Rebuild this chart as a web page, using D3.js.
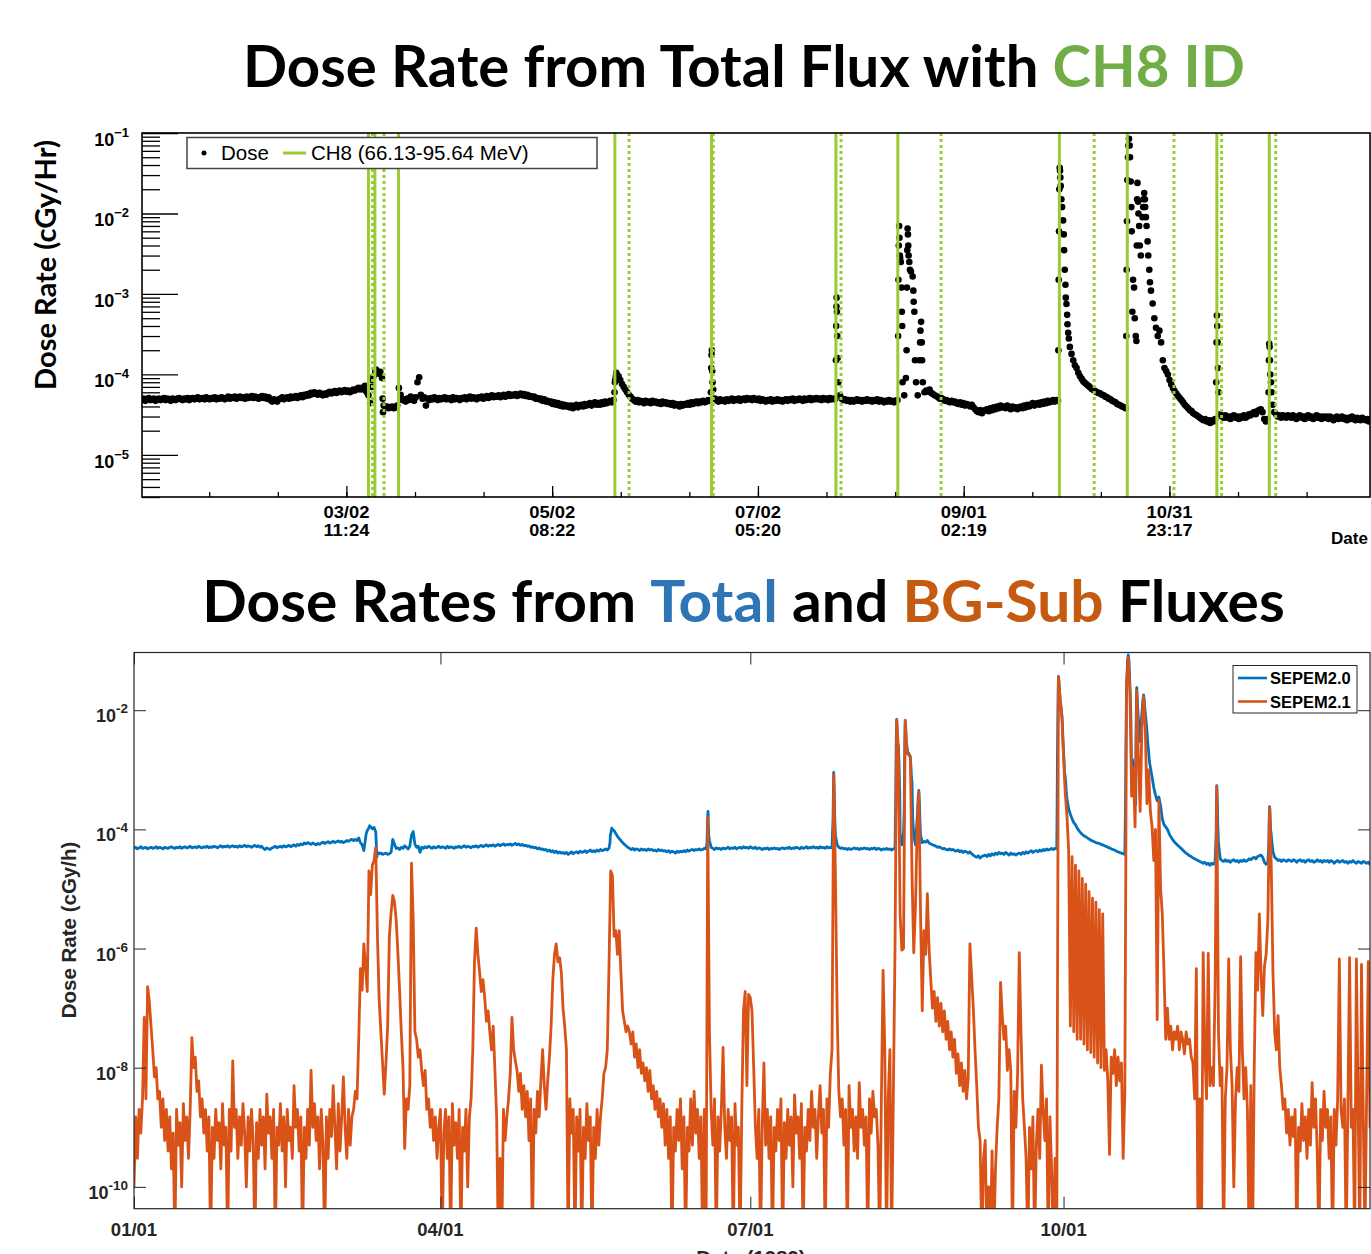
<!DOCTYPE html>
<html><head><meta charset="utf-8">
<script src="https://cdn.jsdelivr.net/npm/d3@7"></script>
<style>body{margin:0;background:#fff} svg{display:block} text{white-space:pre}</style>
</head><body>
<svg id="chart" width="1371" height="1254"></svg>
<script>
// ---------------- DATA ----------------
// Total-flux dose rate (SEPEM2.0), one value every 0.5 day from 1989-01-01, in units of 1e-5 cGy/hr
const totalDoseE5 = [
/*  0 */ 4.8,5.0,4.7,4.9,5.1,4.8,4.9,5.0,4.7,4.9,
/*  5 */ 5.0,4.8,4.9,5.1,4.8,5.0,4.9,4.7,5.0,4.9,
/* 10 */ 4.8,5.0,5.1,4.9,4.8,5.0,4.9,5.1,4.8,5.0,
/* 15 */ 5.1,4.9,5.0,5.2,4.9,5.0,5.1,4.9,5.2,5.0,
/* 20 */ 4.9,5.1,5.0,5.2,4.9,5.1,5.0,5.2,5.1,4.9,
/* 25 */ 5.1,5.3,5.0,5.2,5.1,5.3,5.0,5.2,5.3,5.1,
/* 30 */ 5.2,5.0,5.3,5.1,5.2,5.4,5.1,5.3,5.2,5.0,
/* 35 */ 5.2,5.4,5.1,5.3,5.0,5.2,4.8,4.6,4.9,4.7,
/* 40 */ 4.6,4.9,5.0,5.2,4.9,5.1,5.2,5.0,5.3,5.1,
/* 45 */ 5.2,5.4,5.1,5.3,5.5,5.2,5.6,5.4,5.7,5.5,
/* 50 */ 5.9,5.7,6.0,5.8,5.6,5.9,5.7,5.5,5.8,5.6,
/* 55 */ 5.9,6.1,5.8,6.0,6.2,5.9,6.1,6.3,6.0,6.2,
/* 60 */ 6.4,6.1,6.3,6.0,6.2,6.5,6.3,6.6,6.8,6.5,
/* 65 */ 6.8,6.5,7.2,6.0,5.5,4.4,7.0,9.5,10.7,11.0,
/* 70 */ 10.2,10.8,9.0,4.1,3.9,4.0,3.8,3.9,4.0,3.8,
/* 75 */ 3.9,4.1,6.8,5.6,4.8,4.9,4.6,5.0,4.8,5.3,
/* 80 */ 5.0,4.7,5.2,8.0,9.2,5.6,5.0,5.2,4.1,5.0,
/* 85 */ 4.8,5.1,4.9,5.2,5.0,4.8,5.1,4.9,5.0,5.2,
/* 90 */ 4.9,5.1,5.0,4.8,5.2,4.9,5.1,5.0,4.8,5.1,
/* 95 */ 5.0,5.2,4.9,5.1,5.3,5.0,5.2,5.1,4.9,5.2,
/*100 */ 5.1,5.3,5.0,5.2,5.4,5.1,5.3,5.5,5.2,5.4,
/*105 */ 5.3,5.5,5.2,5.4,5.6,5.3,5.5,5.7,5.4,5.6,
/*110 */ 5.5,5.7,5.4,5.6,5.8,5.5,5.7,5.4,5.6,5.3,
/*115 */ 5.4,5.2,5.3,5.0,5.1,4.9,5.0,4.7,4.9,4.6,
/*120 */ 4.7,4.5,4.6,4.3,4.5,4.2,4.4,4.1,4.3,4.0,
/*125 */ 4.2,4.0,4.1,3.9,4.1,3.8,4.0,4.2,3.9,4.1,
/*130 */ 4.2,4.0,4.3,4.1,4.2,4.4,4.1,4.3,4.5,4.2,
/*135 */ 4.4,4.2,4.5,4.3,4.6,4.4,4.5,4.7,4.5,4.8,
/*140 */ 8.5,10.0,9.5,8.5,7.6,7.0,6.5,6.0,5.6,5.3,
/*145 */ 5.0,4.8,4.6,4.8,4.5,4.7,4.6,4.4,4.7,4.5,
/*150 */ 4.6,4.4,4.7,4.5,4.6,4.4,4.5,4.3,4.6,4.4,
/*155 */ 4.5,4.3,4.4,4.2,4.4,4.1,4.3,4.2,4.0,4.3,
/*160 */ 4.1,4.3,4.2,4.4,4.2,4.5,4.3,4.5,4.6,4.4,
/*165 */ 4.6,4.5,4.7,4.5,4.6,4.8,4.7,17.5,6.5,5.0,
/*170 */ 4.8,4.6,4.9,4.7,4.8,4.6,4.9,4.7,4.8,5.0,
/*175 */ 4.7,4.9,4.8,5.0,4.7,4.9,5.0,4.8,5.1,4.9,
/*180 */ 5.0,4.8,5.1,4.9,4.8,5.0,4.7,4.9,4.8,4.6,
/*185 */ 4.8,4.7,4.9,4.6,4.8,4.7,4.9,4.7,4.8,4.6,
/*190 */ 4.8,4.9,4.7,4.9,4.8,5.0,4.7,4.9,4.8,5.0,
/*195 */ 4.9,4.7,5.0,4.8,4.9,5.1,4.8,5.0,4.9,5.1,
/*200 */ 4.9,5.0,4.8,5.1,4.9,5.0,4.8,5.1,4.9,5.0,
/*205 */ 4.9,90,8.0,5.5,5.0,4.8,4.9,4.7,4.8,4.6,
/*210 */ 4.8,4.6,4.7,4.9,4.7,4.8,4.6,4.8,4.7,4.9,
/*215 */ 4.7,4.8,4.6,4.8,4.7,4.9,4.6,4.8,4.7,4.5,
/*220 */ 4.7,4.6,4.8,4.6,4.7,4.5,4.7,4.8,700,250,
/*225 */ 8,5.5,9,650,250,190,165,60,8,5.5,
/*230 */ 15,45,8,6.0,6.3,6.1,6.5,5.9,5.7,5.5,
/*235 */ 5.4,5.2,5.0,5.1,4.9,4.7,4.8,4.6,4.5,4.7,
/*240 */ 4.5,4.6,4.4,4.3,4.5,4.2,4.4,4.1,4.3,4.2,
/*245 */ 4.0,4.2,3.9,3.7,3.5,3.4,3.6,3.3,3.5,3.6,
/*250 */ 3.7,3.5,3.8,3.6,3.9,3.7,4.0,3.8,4.1,3.9,
/*255 */ 4.0,3.8,4.1,3.9,3.7,4.0,3.8,3.9,3.7,3.9,
/*260 */ 4.0,3.8,4.1,3.9,4.2,4.0,4.2,4.4,4.1,4.3,
/*265 */ 4.4,4.2,4.5,4.3,4.6,4.4,4.7,4.5,4.6,4.8,
/*270 */ 4.6,4.8,4.7,3700,1500,820,200,75,33,22,
/*275 */ 18,15,13,12,10.5,9.5,8.8,8.2,7.8,7.5,
/*280 */ 7.2,6.9,6.6,6.4,6.2,6.0,5.9,5.8,5.6,5.5,
/*285 */ 5.3,5.2,5.0,4.9,4.7,4.6,4.5,4.3,4.2,4.1,
/*290 */ 4.0,3.9,3.8,2600,8500,2500,60,120,30,2400,
/*295 */ 700,300,900,1800,900,450,200,110,76,50,
/*300 */ 38,30,35,25,15,12,11,10,8.5,7.5,
/*305 */ 6.8,6.2,5.8,5.4,5.1,4.8,4.5,4.2,4.0,3.8,
/*310 */ 3.6,3.5,3.3,3.2,3.1,3.0,2.9,2.8,2.7,2.8,
/*315 */ 2.6,2.7,2.5,2.7,2.6,2.8,54,6.0,3.2,3.0,
/*320 */ 2.9,3.1,2.9,3.0,2.8,3.0,3.1,2.9,3.0,2.8,
/*325 */ 3.0,2.9,3.1,2.9,3.0,3.2,3.1,3.3,3.4,3.2,
/*330 */ 3.5,3.6,3.7,3.4,2.8,2.6,2.8,24,8,4.2,
/*335 */ 3.4,3.2,3.0,3.1,2.9,3.1,3.0,2.9,3.1,3.0,
/*340 */ 2.9,3.1,3.0,2.8,3.0,3.1,2.9,3.0,2.8,3.0,
/*345 */ 3.1,2.9,3.0,2.8,2.9,3.1,2.9,3.0,2.8,3.0,
/*350 */ 2.9,3.0,2.8,3.0,2.9,2.7,2.9,3.0,2.8,2.9,
/*355 */ 3.0,2.8,2.9,2.7,2.9,2.8,3.0,2.8,2.7,2.9,
/*360 */ 2.8,2.7,2.9,2.8,2.7,2.8,2.6,2.8
];
// Extra readings during the sharp events: [day of year, cGy/hr]
const totalDoseDetail = [
 [68.2,8.5e-5],[69.2,1.15e-4],[70.2,1.05e-4],[71.2,5e-5],[71.3,3.4e-5],
 [139.8,6e-5],[139.9,8e-5],[140.2,9.5e-5],[140.3,1.05e-4],
 [168.3,6e-5],[168.4,1.2e-4],[168.6,2e-4],[168.7,1.1e-4],[168.8,8e-5],
 [205.3,1.5e-4],[205.4,4e-4],[205.45,7e-4],[205.6,6e-4],[205.7,3e-4],[205.8,1.6e-4],
 [223.7,3e-4],[223.8,1.5e-3],[223.9,4e-3],[224.1,5e-3],[224.2,3e-3],[224.3,2.8e-3],[224.7,1.2e-3],[224.8,6e-4],[224.9,4e-4],
 [226.2,2e-4],[226.3,1.2e-3],[226.4,3.5e-3],[226.6,5.5e-3],[226.7,4e-3],[226.8,3e-3],[227.2,2e-3],[228.2,1.1e-3],[228.3,8e-4],[228.7,1.5e-4],
 [230.2,2.5e-4],[230.3,3.5e-4],[230.7,2.5e-4],[230.8,1.5e-4],
 [271.1,2e-4],[271.2,1.5e-3],[271.3,6e-3],[271.4,2e-2],[271.6,3.4e-2],[271.7,2.8e-2],[271.8,2.2e-2],[272.2,1.2e-2],[272.7,5.5e-3],[272.8,3.5e-3],[273.2,1.3e-3],[273.3,9e-4],[273.7,5.5e-4],[273.8,4.2e-4],[274.2,2.8e-4],
 [291.2,3e-4],[291.3,2e-3],[291.4,8e-3],[291.7,5e-2],[291.8,7e-2],[292.2,7e-2],[292.3,5e-2],[292.7,1.2e-2],[292.8,6e-3],[293.2,1.5e-3],[293.7,5e-4],[294.2,2.6e-4],[294.3,4e-3],[294.4,1.5e-2],[294.7,1.4e-2],[294.8,1e-2],[295.2,4e-3],[296.2,1.2e-2],[296.3,1.5e-2],[296.7,1.5e-2],[296.8,1.2e-2],[297.2,7e-3],[297.7,3e-3],[298.2,1.4e-3],
 [317.8,8e-5],[317.9,2.5e-4],[318.1,4e-4],[318.2,2.5e-4],[318.3,1.2e-4],
 [333.3,6e-5],[333.4,1.5e-4],[333.6,2.2e-4],[333.7,1.5e-4],[333.8,1e-4],[334.2,6e-5]
];
// Background-subtracted dose rate (SEPEM2.1), one value every 0.5 day, cGy/h
const bgSubDose = [
/*  0 */ 1e-10,1.5e-9,3e-10,2e-9,8e-10,3e-9,7e-8,3e-9,2.3e-7,1.3e-7,
/*  5 */ 5e-8,2e-8,7e-9,1e-8,3e-9,4e-9,1e-9,3e-9,6e-10,2e-9,
/* 10 */ 4e-10,1.5e-9,2e-10,8e-10,1e-11,2e-9,5e-10,1.2e-9,1e-10,2.5e-9,
/* 15 */ 6e-10,1.5e-9,3e-10,2e-9,3.2e-8,1e-8,1.5e-8,4e-9,6e-9,1.5e-9,
/* 20 */ 3e-9,8e-10,2e-9,4e-10,1.5e-9,1e-11,1e-9,3e-10,2e-9,6e-10,
/* 25 */ 1.2e-9,2e-10,2.5e-9,5e-10,1e-9,1e-11,2e-9,4e-10,1.3e-8,1e-9,
/* 30 */ 2e-9,3e-10,1.5e-9,5e-10,2.5e-9,8e-10,1e-10,1.5e-9,4e-10,2e-9,
/* 35 */ 6e-10,1e-11,1.2e-9,3e-10,2e-9,5e-10,1.5e-9,2e-10,3.6e-9,8e-10,
/* 40 */ 1.5e-9,3e-10,2e-9,1e-11,1e-9,5e-10,2.5e-9,4e-10,1.5e-9,1e-10,
/* 45 */ 2e-9,6e-10,1e-9,3e-10,5e-9,1e-9,2e-9,4e-10,1.5e-9,1e-11,
/* 50 */ 1e-9,3e-10,2e-9,5e-10,9e-9,1e-9,2.5e-9,6e-10,1.5e-9,2e-10,
/* 55 */ 2e-9,5e-10,1e-11,1.5e-9,3e-10,2e-9,7e-10,5e-9,1e-9,2e-10,
/* 60 */ 2.5e-9,4e-10,1.5e-9,7e-9,1e-9,3e-10,2e-9,5e-10,1.5e-9,2e-9,
/* 65 */ 4e-9,3e-9,3e-8,4.6e-7,2e-7,1.2e-6,5e-7,1.9e-7,2e-5,8e-6,
/* 70 */ 2.5e-5,3e-5,5e-5,1.6e-6,1.4e-7,4e-8,1.2e-8,3.6e-9,1.2e-8,5e-8,
/* 75 */ 1.6e-6,4e-6,7.8e-6,6e-6,3e-6,8.5e-7,2e-7,4e-8,1e-8,4.4e-10,
/* 80 */ 3e-9,2e-9,5e-9,2.7e-5,3e-6,4e-8,3e-8,1.5e-8,2e-8,9e-9,
/* 85 */ 5e-9,9e-9,2e-9,3e-9,1e-9,2e-9,6e-10,1.5e-9,3e-10,1e-9,
/* 90 */ 2e-9,1e-11,8e-10,2e-9,3e-10,1.5e-9,1e-11,2.5e-9,5e-10,1.2e-9,
/* 95 */ 3e-10,2e-9,1e-11,1e-9,4e-10,2e-9,1e-10,1.5e-9,3e-9,2e-8,
/*100 */ 6e-7,2.2e-6,8e-7,4e-7,1.9e-7,3e-7,1.5e-7,6e-8,9e-8,4e-8,
/*105 */ 2e-8,5e-8,9e-9,1.5e-9,1e-11,3e-10,1e-11,2e-9,6e-10,1.5e-9,
/*110 */ 3e-9,8e-9,7e-8,2e-8,1.3e-8,9e-9,4e-9,8e-9,2e-9,5e-9,
/*115 */ 1.5e-9,4e-9,6e-10,3e-9,1e-11,2e-9,8e-10,4e-9,1.5e-9,6e-9,
/*120 */ 2e-8,5e-9,2e-9,6e-9,1.5e-8,5e-8,3e-7,8e-7,1.2e-6,6e-7,
/*125 */ 7e-7,4e-7,1e-7,5e-8,2e-8,1e-11,3e-9,8e-10,2e-9,1e-11,
/*130 */ 1.5e-9,4e-10,2e-9,1e-11,1e-9,3e-10,2.5e-9,6e-10,1.5e-9,1e-11,
/*135 */ 1e-9,3e-10,2e-9,5e-10,1.5e-9,3e-9,8e-9,1e-8,2e-8,5e-7,
/*140 */ 2e-5,1.7e-5,1.6e-6,2e-6,8e-7,2e-6,4e-7,9e-8,6e-8,4e-8,
/*145 */ 5e-8,4e-8,2.5e-8,4e-8,1.5e-8,2.5e-8,1e-8,2e-8,8e-9,1.2e-8,
/*150 */ 6e-9,1e-8,4e-9,9e-9,3e-9,5e-9,2e-9,4e-9,1.5e-9,3e-9,
/*155 */ 1e-9,2.5e-9,5e-10,2e-9,3e-10,1.5e-9,1e-11,1e-9,4e-10,2e-9,
/*160 */ 6e-10,3e-9,2e-10,1.5e-9,1e-11,1e-9,4e-10,3e-9,5e-10,4e-9,
/*165 */ 8e-10,2e-9,3e-10,1.5e-9,1e-11,2e-9,1e-11,1.6e-4,4e-8,2e-9,
/*170 */ 5e-10,3e-9,1e-11,1.5e-9,4e-10,2e-9,2.2e-8,1e-9,3e-10,2e-9,
/*175 */ 6e-10,1.5e-9,1e-11,2.5e-9,5e-10,1e-9,1e-11,2e-9,9e-8,1.9e-7,
/*180 */ 5e-9,1.7e-7,1.5e-7,9e-8,1e-8,1e-9,3e-10,2e-9,1e-11,1e-9,
/*185 */ 1.2e-8,5e-10,2e-9,3e-10,1.5e-9,1e-11,1e-9,4e-10,2e-9,6e-10,
/*190 */ 3e-9,1e-11,1.2e-9,3e-10,2e-9,5e-10,1.5e-9,1e-10,3.5e-9,8e-10,
/*195 */ 1.5e-9,3e-10,2.5e-9,1e-11,1e-9,4e-10,2e-9,6e-10,4e-9,1e-9,
/*200 */ 2e-9,3e-10,1.5e-9,5e-9,8e-10,2e-9,1e-11,3e-9,1e-9,8e-9,
/*205 */ 2e-8,8.3e-4,1.7e-5,9e-8,4e-9,1.5e-9,3e-9,5e-10,2e-9,1e-11,
/*210 */ 5e-9,1e-9,2e-9,4e-10,1.5e-9,3e-10,5.6e-9,1e-9,2e-9,5e-10,
/*215 */ 1.5e-9,1e-11,3e-9,8e-10,4e-9,1.5e-9,2e-9,5e-10,1e-11,3e-9,
/*220 */ 4.3e-7,2e-8,1e-11,3e-9,2e-8,1e-11,3e-9,1e-6,6.8e-3,2e-3,
/*225 */ 3.8e-6,9.4e-7,1e-6,6.8e-3,1.9e-3,1.8e-3,1.65e-3,1.7e-5,8.5e-7,5e-6,
/*230 */ 1e-4,4.2e-4,3.8e-6,9e-8,2e-6,8e-7,8.3e-6,1e-6,3e-7,1e-7,
/*235 */ 1.9e-7,6e-8,1.5e-7,5e-8,1.2e-7,4e-8,9e-8,3e-8,6e-8,2e-8,
/*240 */ 4e-8,1.5e-8,3e-8,8e-9,1.7e-8,5e-9,1.2e-8,4e-9,9e-9,3e-9,
/*245 */ 6.7e-9,1.2e-6,3.4e-7,1e-7,2e-8,5e-9,1e-9,6e-10,1e-11,3e-10,
/*250 */ 6e-10,1e-11,1e-10,1e-11,4e-10,1e-11,2e-10,1e-9,3e-9,2.7e-7,
/*255 */ 7.5e-8,3e-8,5e-8,9e-9,2e-8,9e-9,1e-11,4e-9,1e-9,8e-9,
/*260 */ 8.5e-7,4e-8,3e-9,1e-9,3e-10,1e-11,1e-9,2e-10,1.5e-9,1e-11,
/*265 */ 5e-10,2e-9,3e-10,1.1e-8,2e-9,6e-10,3e-9,1e-11,1.5e-9,2e-10,
/*270 */ 1e-11,3e-10,1e-11,3.6e-2,1.5e-2,8e-3,1.6e-3,4e-4,1.7e-4,4.3e-5,
/*275 */ 5e-8,3.5e-5,4e-8,2.5e-5,3e-8,2e-5,3e-8,1.5e-5,2.5e-8,1.2e-5,
/*280 */ 2e-8,9e-6,1.8e-8,7e-6,1.5e-8,6e-6,1.2e-8,4.5e-6,1e-8,3.8e-6,
/*285 */ 9e-9,2e-8,6e-9,3.5e-10,1.5e-8,8e-9,2e-8,5e-9,1.5e-8,6e-9,
/*290 */ 1.2e-8,3e-10,4e-9,2.5e-2,7.7e-2,2e-2,3.6e-4,1.1e-3,1.1e-4,2.1e-2,
/*295 */ 1.4e-3,2e-4,5e-3,1.7e-2,5e-3,2.7e-4,1e-3,2e-4,1.1e-4,3e-5,
/*300 */ 1e-4,6.4e-8,3.1e-4,1e-5,3.8e-6,4e-7,3e-8,1e-7,3e-8,5e-8,
/*305 */ 2e-8,4e-8,3e-8,5e-8,2e-8,4e-8,3e-8,1.7e-8,4e-8,2.5e-8,
/*310 */ 3e-8,1.5e-8,1.2e-8,3e-9,4.6e-7,1e-11,3e-9,1e-11,8.5e-7,2e-8,
/*315 */ 3e-9,8.3e-7,5e-9,1e-8,5e-9,2e-7,5.2e-4,4e-8,5e-9,1e-8,
/*320 */ 1e-11,3e-9,1e-8,6.7e-7,2e-8,5e-9,1e-10,3e-9,1e-8,4e-9,
/*325 */ 7.3e-7,2e-8,3e-9,1e-8,2e-9,1e-11,5e-9,1e-11,1e-8,8.5e-7,
/*330 */ 2e-7,3.8e-6,4e-7,7.5e-8,5e-7,8e-7,3e-6,2.3e-4,2.4e-5,4e-7,
/*335 */ 4e-8,2e-8,7.5e-8,1e-8,5e-9,2e-9,3e-9,8e-10,2e-9,5e-10,
/*340 */ 1.5e-9,7e-10,2e-9,1e-11,1e-9,4e-10,2.5e-9,6e-10,1.5e-9,3e-10,
/*345 */ 2e-9,5e-10,5.6e-9,1e-9,3e-9,4e-10,1e-11,2e-9,6e-10,4e-9,
/*350 */ 1e-9,2e-9,3e-10,1.5e-9,1e-11,2e-9,5e-10,3e-9,6.7e-7,2e-9,
/*355 */ 1e-9,3e-9,1e-11,2e-9,7e-7,1e-9,2e-9,1e-11,6.7e-7,3e-9,
/*360 */ 1e-11,5.4e-7,2e-9,1e-11,3e-9,6e-7,1e-9,2e-9
];
// CH8 (66.13-95.64 MeV) event identification, day of year
const ch8EventStarts = [67.0, 68.9, 75.9, 139.9, 168.5, 205.3, 223.6, 271.4, 291.5, 318.0, 333.5];
const ch8EventEnds   = [68.2, 71.6, 144.1, 169.0, 206.8, 236.4, 281.7, 305.3, 319.4, 335.4];
// Axis ticks
const topTickDates  = ["1989-03-02T11:24Z","1989-05-02T08:22Z","1989-07-02T05:20Z","1989-09-01T02:19Z","1989-10-31T23:17Z"];
const topTickLabels = [["03/02","11:24"],["05/02","08:22"],["07/02","05:20"],["09/01","02:19"],["10/31","23:17"]];
const topYTicks = [1e-5,1e-4,1e-3,1e-2,1e-1];
const topYTickExp = ["−5","−4","−3","−2","−1"];
const botTickDates  = ["1989-01-01","1989-04-01","1989-07-01","1989-10-01"];
const botTickLabels = ["01/01","04/01","07/01","10/01"];
const botYTicks = [1e-10,1e-8,1e-6,1e-4,1e-2];
const botYTickExp = ["-10","-8","-6","-4","-2"];
const seriesNames = ["SEPEM2.0","SEPEM2.1"];

// ---------------- BUILD ----------------
const DAY0 = Date.UTC(1989,0,1);
const STEP = 0.5;
const toDate = d => new Date(DAY0 + d*864e5);
const totalSeries = totalDoseE5.map((v,i)=>({day:i*STEP, v:v*1e-5}))
  .concat(totalDoseDetail.map(([d,v])=>({day:d, v})))
  .sort((a,b)=>a.day-b.day);
const bgSeries = bgSubDose.map((v,i)=>({day:i*STEP, v}));

const svg = d3.select('#chart');
const SANS = '"Liberation Sans", Arial, Helvetica, sans-serif';
const defs = svg.append('defs');

function title(y, cx, targetW, parts){
  const t = svg.append('text').attr('font-family','Lato, "Open Sans", sans-serif')
    .attr('font-weight',700).attr('font-size',58).attr('text-anchor','middle');
  parts.forEach(([s,c])=>t.append('tspan').attr('fill',c).text(s));
  const w = t.node().getComputedTextLength();
  t.attr('transform',`translate(${cx},${y}) scale(${targetW/w},1)`);
}
title(87, 744, 1002, [["Dose Rate from Total Flux with ","#000"],["CH8 ID","#70AD47"]]);
title(622, 743.5, 1081, [["Dose Rates from ","#000"],["Total","#2E75B6"],[" and ","#000"],["BG-Sub","#C55A11"],[" Fluxes","#000"]]);

// ===== TOP CHART =====
const T = {l:142, r:1370, t:133, b:497};
const xT = d3.scaleUtc().domain([toDate(0), toDate(363.3)]).range([T.l, T.r]);
const yT = d3.scaleLog().domain([3e-6, 0.1]).range([T.b, T.t]);
defs.append('clipPath').attr('id','clipTop').append('rect')
  .attr('x',T.l).attr('y',T.t).attr('width',T.r-T.l).attr('height',T.b-T.t);

const gTop = svg.append('g');
// dots
gTop.append('g').attr('clip-path','url(#clipTop)').selectAll('circle').data(totalSeries).join('circle')
  .attr('cx',d=>xT(toDate(d.day))).attr('cy',d=>yT(d.v)).attr('r',3.3).attr('fill','#000');
// CH8 event lines
const GREEN = '#99cc33';
gTop.append('g').selectAll('line').data(ch8EventStarts).join('line')
  .attr('x1',d=>xT(toDate(d))).attr('x2',d=>xT(toDate(d))).attr('y1',T.t).attr('y2',T.b)
  .attr('stroke',GREEN).attr('stroke-width',3);
gTop.append('g').selectAll('line').data(ch8EventEnds).join('line')
  .attr('x1',d=>xT(toDate(d))).attr('x2',d=>xT(toDate(d))).attr('y1',T.t).attr('y2',T.b)
  .attr('stroke',GREEN).attr('stroke-width',3).attr('stroke-dasharray','3,3');

// axes
const majorT = topTickDates.map(s=>new Date(s));
const stepMs = (majorT[1]-majorT[0])/3;
const minorT = [];
for(let t=+majorT[0]-2*stepMs; t<=+toDate(363.3); t+=stepMs){ minorT.push(new Date(t)); }
function styleAxis(g, color){ g.select('.domain').remove(); g.selectAll('.tick line').attr('stroke',color).attr('stroke-width',1.3); g.selectAll('.tick text').remove(); }
gTop.append('g').attr('transform',`translate(0,${T.b})`)
  .call(d3.axisBottom(xT).tickValues(minorT).tickSize(-5).tickFormat('')).call(g=>styleAxis(g,'#000'));
gTop.append('g').attr('transform',`translate(0,${T.b})`)
  .call(d3.axisBottom(xT).tickValues(majorT).tickSize(-11).tickFormat('')).call(g=>styleAxis(g,'#000'));
const minorY = [];
for(let e=-6;e<=-2;e++) for(let k=2;k<=9;k++){ const v=k*Math.pow(10,e); if(v>=3e-6 && v<0.1) minorY.push(v); }
gTop.append('g').attr('transform',`translate(${T.l},0)`)
  .call(d3.axisRight(yT).tickValues(minorY).tickSize(18).tickFormat('')).call(g=>styleAxis(g,'#000'));
gTop.append('g').attr('transform',`translate(${T.l},0)`)
  .call(d3.axisRight(yT).tickValues(topYTicks).tickSize(36).tickFormat('')).call(g=>styleAxis(g,'#000'));
// frame
gTop.append('rect').attr('x',T.l).attr('y',T.t).attr('width',T.r-T.l).attr('height',T.b-T.t)
  .attr('fill','none').attr('stroke','#000').attr('stroke-width',1.6);

// tick labels (two lines)
topTickLabels.forEach((lab,i)=>{
  const x = xT(majorT[i]);
  lab.forEach((s,j)=>{
    gTop.append('text').attr('x',x-23).attr('y',517.5+j*18).attr('textLength',46).attr('lengthAdjust','spacingAndGlyphs')
      .attr('font-family',SANS).attr('font-weight',700).attr('font-size',16).text(s);
  });
});
topYTicks.forEach((v,i)=>{
  const t = gTop.append('text').attr('x',129).attr('y',yT(v)+13).attr('text-anchor','end')
    .attr('font-family',SANS).attr('font-weight',700).attr('font-size',18);
  t.append('tspan').text('10');
  t.append('tspan').attr('dy',-9).attr('font-size',13).text(topYTickExp[i]);
});
gTop.append('text').attr('x',1331).attr('y',544).attr('font-family',SANS).attr('font-weight',700)
  .attr('font-size',17).text('Date');
gTop.append('text').attr('transform','translate(56,265) rotate(-90)').attr('text-anchor','middle')
  .attr('font-family','Lato, "Open Sans", sans-serif').attr('font-weight',700).attr('font-size',28)
  .attr('textLength',250).attr('lengthAdjust','spacingAndGlyphs').text('Dose Rate (cGy/Hr)');

// legend
const lg = gTop.append('g');
lg.append('rect').attr('x',187).attr('y',137.5).attr('width',410).attr('height',31)
  .attr('fill','#fff').attr('stroke','#444').attr('stroke-width',1.5);
lg.append('circle').attr('cx',204).attr('cy',153).attr('r',2.5).attr('fill','#000');
lg.append('text').attr('x',221).attr('y',160).attr('font-family',SANS).attr('font-size',20.5).text('Dose');
lg.append('line').attr('x1',283).attr('x2',306).attr('y1',153).attr('y2',153).attr('stroke',GREEN).attr('stroke-width',3);
lg.append('text').attr('x',311).attr('y',160).attr('font-family',SANS).attr('font-size',20.5).text('CH8 (66.13-95.64 MeV)');

// ===== BOTTOM CHART =====
const B = {l:134, r:1370, t:652.5, b:1208.7};
const xB = d3.scaleUtc().domain([toDate(0), toDate(363)]).range([B.l, B.r]);
const yB = d3.scaleLog().domain([4.3e-11, 0.093]).range([B.b, B.t]);
defs.append('clipPath').attr('id','clipBot').append('rect')
  .attr('x',B.l).attr('y',B.t).attr('width',B.r-B.l).attr('height',B.b-B.t);
const gBot = svg.append('g');
const lineB = d3.line().x(d=>xB(toDate(d.day))).y(d=>yB(d.v));
const BLUE = '#0072BD', ORANGE = '#D95319', AX = '#262626';
const gLines = gBot.append('g').attr('clip-path','url(#clipBot)');
gLines.append('path').datum(totalSeries).attr('d',lineB).attr('fill','none')
  .attr('stroke',BLUE).attr('stroke-width',2.8).attr('stroke-linejoin','round');
gLines.append('path').datum(bgSeries).attr('d',lineB).attr('fill','none')
  .attr('stroke',ORANGE).attr('stroke-width',2.8).attr('stroke-linejoin','round');

const botDates = botTickDates.map(s=>new Date(s+'T00:00:00Z'));
gBot.append('g').attr('transform',`translate(0,${B.b})`).call(d3.axisBottom(xB).tickValues(botDates).tickSize(-12).tickFormat('')).call(g=>styleAxis(g,AX));
gBot.append('g').attr('transform',`translate(0,${B.t})`).call(d3.axisTop(xB).tickValues(botDates).tickSize(-12).tickFormat('')).call(g=>styleAxis(g,AX));
gBot.append('g').attr('transform',`translate(${B.l},0)`).call(d3.axisLeft(yB).tickValues(botYTicks).tickSize(-12).tickFormat('')).call(g=>styleAxis(g,AX));
gBot.append('g').attr('transform',`translate(${B.r},0)`).call(d3.axisRight(yB).tickValues(botYTicks).tickSize(-12).tickFormat('')).call(g=>styleAxis(g,AX));
gBot.selectAll('.tick line').attr('stroke-width',1);
gBot.append('rect').attr('x',B.l).attr('y',B.t).attr('width',B.r-B.l).attr('height',B.b-B.t)
  .attr('fill','none').attr('stroke',AX).attr('stroke-width',1.2);

botTickLabels.forEach((s,i)=>{
  gBot.append('text').attr('x',xB(botDates[i])).attr('y',1236).attr('text-anchor','middle')
    .attr('font-family',SANS).attr('font-weight',700).attr('font-size',18.5).attr('fill',AX).text(s);
});
botYTicks.forEach((v,i)=>{
  const t = gBot.append('text').attr('x',128).attr('y',yB(v)+12).attr('text-anchor','end')
    .attr('font-family',SANS).attr('font-weight',700).attr('font-size',18).attr('fill',AX);
  t.append('tspan').text('10');
  t.append('tspan').attr('dy',-9).attr('font-size',13.5).text(botYTickExp[i]);
});
gBot.append('text').attr('transform','translate(76,930) rotate(-90)').attr('text-anchor','middle')
  .attr('font-family',SANS).attr('font-weight',700).attr('font-size',20.5).attr('fill',AX).text('Dose Rate (cGy/h)');
gBot.append('text').attr('x',751).attr('y',1265).attr('text-anchor','middle')
  .attr('font-family',SANS).attr('font-weight',700).attr('font-size',20.5).attr('fill',AX).text('Date (1989)');

// legend
const lb = gBot.append('g');
lb.append('rect').attr('x',1233).attr('y',665.5).attr('width',124).attr('height',47.5)
  .attr('fill','#fff').attr('stroke',AX).attr('stroke-width',1);
[BLUE, ORANGE].forEach((c,i)=>{
  const y = 678 + i*23.5;
  lb.append('line').attr('x1',1238).attr('x2',1267).attr('y1',y).attr('y2',y).attr('stroke',c).attr('stroke-width',2.6);
  lb.append('text').attr('x',1270).attr('y',y+6).attr('font-family',SANS).attr('font-weight',700)
    .attr('font-size',16.5).attr('fill','#000').text(seriesNames[i]);
});
</script></body></html>
